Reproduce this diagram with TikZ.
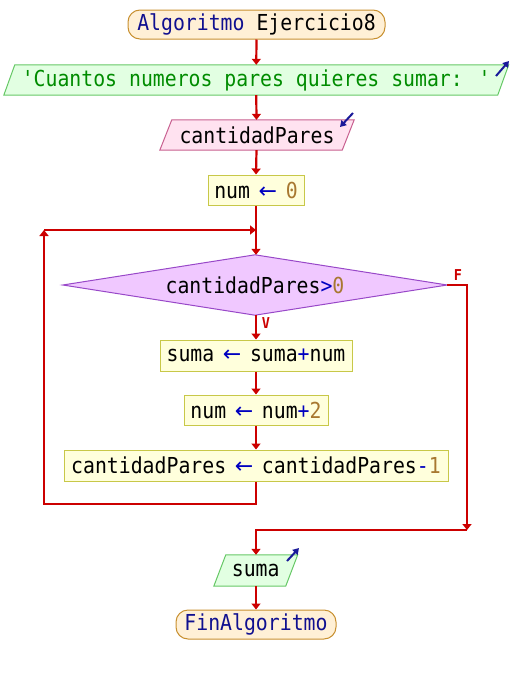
\documentclass[tikz,border=0pt]{standalone}
\usepackage{fontspec}
\newfontfamily\psfont[FakeStretch=0.9]{DejaVu Sans Mono}
\newfontfamily\arrfont{DejaVu Sans}
\newcommand{\asgarrow}{{\color{opc}\makebox[11.92pt][c]{\arrfont ←}}}
\usetikzlibrary{arrows.meta,backgrounds}
\definecolor{flowc}{HTML}{CC0000}
\definecolor{iob}{HTML}{1A1A99}
\definecolor{kw}{HTML}{101090}
\definecolor{opc}{HTML}{0000C0}
\definecolor{numc}{HTML}{A87830}
\definecolor{strc}{HTML}{008C00}
\definecolor{termF}{HTML}{FFF0D6}
\definecolor{termB}{HTML}{C89030}
\definecolor{outF}{HTML}{E2FFE2}
\definecolor{outB}{HTML}{66C866}
\definecolor{inF}{HTML}{FFE2F0}
\definecolor{inB}{HTML}{C86090}
\definecolor{asgF}{HTML}{FFFFDC}
\definecolor{asgB}{HTML}{C8C848}
\definecolor{decF}{HTML}{F0C8FF}
\definecolor{decB}{HTML}{9848C8}
\begin{document}
\begin{tikzpicture}[x=1pt,y=-1pt,
  every node/.style={font=\psfont\fontsize{22}{26}\selectfont, inner sep=0pt},
  term/.style={draw=termB, fill=termF, rounded corners=12pt, line width=1pt},
  asg/.style={draw=asgB, fill=asgF, line width=1pt},
  iobody/.style={draw=none},
  outshape/.style={draw=outB, fill=outF, line width=1pt},
  inshape/.style={draw=inB, fill=inF, line width=1pt},
  decshape/.style={draw=decB, fill=decF, line width=1pt},
  flow/.style={draw=flowc, line width=2.2pt},
  arr/.style={flow, -{Triangle[width=9pt,length=6pt]}},
  ioarr/.style={draw=iob, line width=2pt, -{Triangle[width=7pt,length=6pt]}},
  lab/.style={text=flowc, font=\psfont\bfseries\fontsize{15}{18}\selectfont}]
\useasboundingbox (0,0) rectangle (512,675);

% nodes
\node[term, minimum width=257pt, minimum height=29pt] (start) at (256.5,24.5)
  {{\color{kw}Algoritmo} Ejercicio8};
\node[iobody, minimum width=493.5pt, minimum height=30pt] (out1) at (256.25,80)
  {\color{strc}'Cuantos numeros pares quieres sumar: '};
\node[iobody, minimum width=182pt, minimum height=30pt] (in1) at (257,135)
  {cantidadPares};
\node[asg, minimum width=96pt, minimum height=30pt] (a1) at (256,190)
  {num \asgarrow{} {\color{numc}0}};
\node[iobody, minimum width=384pt, minimum height=60pt] (dec) at (255,285)
  {cantidadPares{\color{opc}>}{\color{numc}0}};
\node[asg, minimum width=192pt, minimum height=31pt] (a2) at (256,355.5)
  {suma \asgarrow{} suma{\color{opc}+}num};
\node[asg, minimum width=144pt, minimum height=30pt] (a3) at (256,410)
  {num \asgarrow{} num{\color{opc}+}{\color{numc}2}};
\node[asg, minimum width=384pt, minimum height=31pt] (a4) at (256,465.5)
  {cantidadPares \asgarrow{} cantidadPares{\color{opc}-}{\color{numc}1}};
\node[iobody, minimum width=71.5pt, minimum height=31pt] (out2) at (255.75,570.5)
  {suma};
\node[term, minimum width=160pt, minimum height=29pt] (end) at (256,624.5)
  {\color{kw}FinAlgoritmo};

\node[lab] (F) at (458,275.5) {F};
\node[lab] (V) at (266,323) {V};

% shapes behind text
\begin{scope}[on background layer]
  \path[outshape] ([xshift=5.5pt]out1.north west) -- ([xshift=5.5pt]out1.north east)
    -- ([xshift=-5.5pt]out1.south east) -- ([xshift=-5.5pt]out1.south west) -- cycle;
  \path[inshape] ([xshift=6pt]in1.north west) -- ([xshift=6pt]in1.north east)
    -- ([xshift=-6pt]in1.south east) -- ([xshift=-6pt]in1.south west) -- cycle;
  \path[outshape] ([xshift=6pt]out2.north west) -- ([xshift=6pt]out2.north east)
    -- ([xshift=-6pt]out2.south east) -- ([xshift=-6pt]out2.south west) -- cycle;
  \path[decshape] (dec.north) -- (dec.east) -- (dec.south) -- (dec.west) -- cycle;
\end{scope}

% coordinates for connectors
\coordinate (join) at (256,230);
\coordinate (lt) at (44,230);
\coordinate (lb) at (44,504);
\coordinate (fr) at (467,530);

% connectors
\draw[arr] (start.south) -- (out1.north);
\draw[arr] (out1.south) -- (in1.north -| start.south);
\draw[arr] (in1.south -| start.south) -- (a1.north);
\draw[arr] (a1.south) -- (dec.north -| a1.south);
\draw[arr] (dec.south -| a2.north) -- (a2.north);
\draw[arr] (a2.south) -- (a3.north);
\draw[arr] (a3.south) -- (a4.north);
\draw[arr] (a4.south) |- (lb) -- (lt);
\draw[arr] (lt) -- (join);
\draw[arr] (dec.east) -| (fr);
\draw[arr] (fr) -| (out2.north -| end.north);
\draw[arr] (out2.south -| end.north) -- (end.north);

% input/output markers
\coordinate (o1a) at (496,76);
\coordinate (o1b) at (509,61);
\draw[ioarr] (o1a) -- (o1b);
\coordinate (i1a) at (353,113);
\coordinate (i1b) at (340,127);
\draw[ioarr] (i1a) -- (i1b);
\coordinate (o2a) at (287,561);
\coordinate (o2b) at (299,548);
\draw[ioarr] (o2a) -- (o2b);
\end{tikzpicture}
\end{document}
